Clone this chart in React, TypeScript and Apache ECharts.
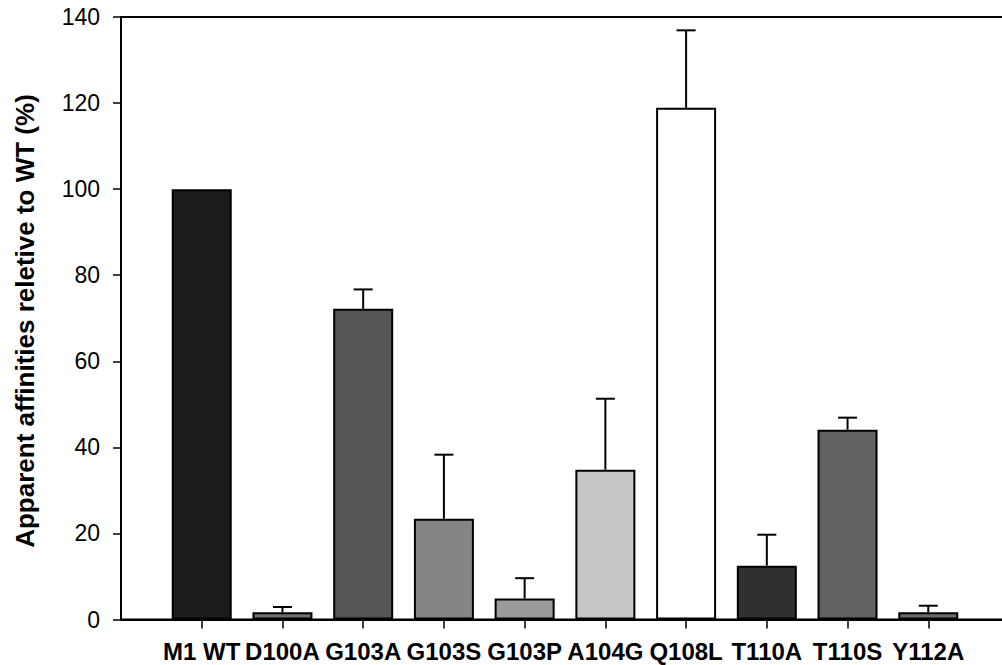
import React, { useEffect, useRef } from "react";
import * as echarts from "echarts";

const CATEGORIES = ["M1 WT", "D100A", "G103A", "G103S", "G103P", "A104G", "Q108L", "T110A", "T110S", "Y112A"];
const VALUES = [100, 1.7, 72.2, 23.4, 4.9, 34.8, 118.9, 12.5, 44.1, 1.7];
const ERRORS = [0, 1.2, 4.5, 14.9, 4.7, 16.5, 18.0, 7.2, 2.8, 1.5];
const Y_MIN = 0;
const Y_MAX = 140;
const Y_INTERVAL = 20;
const Y_TITLE = "Apparent affinities reletive to WT (%)";

const BAR_COLORS = ["#1c1c1c", "#6e6e6e", "#555555", "#858585", "#9a9a9a", "#c6c6c6", "#ffffff", "#303030", "#626262", "#6a6a6a"];

const FONT = "'Liberation Sans', Arial, sans-serif";

export default function App() {
  const ref = useRef<HTMLDivElement>(null);
  useEffect(() => {
    if (!ref.current) return;
    const chart = echarts.init(ref.current, null, { renderer: "svg" });
    // padded category list: an empty slot on each side
    const cats = ["", ...CATEGORIES, ""];
    const barData: any[] = [null as any];
    CATEGORIES.forEach((c, i) => {
      barData.push({ value: VALUES[i], itemStyle: { color: BAR_COLORS[i] } });
    });
    barData.push(null);
    const errData = CATEGORIES.map((c, i) => [i + 1, VALUES[i], ERRORS[i]]);

    chart.setOption({
      animation: false,
      grid: {
        left: 121,
        right: 0,
        top: 17,
        bottom: 45.5,
        show: true,
        borderColor: "#000",
        borderWidth: 2,
        backgroundColor: "transparent",
      },
      graphic: [
        {
          type: "text",
          x: 25,
          y: 321,
          rotation: Math.PI / 2,
          style: {
            text: Y_TITLE,
            x: 0,
            y: 0,
            textAlign: "center",
            textVerticalAlign: "middle",
            font: `bold 26px ${FONT}`,
            fill: "#000",
          },
        },
      ],
      xAxis: {
        type: "category",
        data: cats,
        boundaryGap: false,
        axisLine: { lineStyle: { color: "#000", width: 2 } },
        axisTick: {
          show: true,
          length: 9,
          interval: (idx: number, val: string) => val !== "",
          lineStyle: { color: "#000", width: 1.5 },
        },
        axisLabel: {
          interval: 0,
          margin: 20,
          fontFamily: FONT,
          fontSize: 24,
          fontWeight: "bold",
          color: "#000",
        },
        splitLine: { show: false },
      },
      yAxis: {
        type: "value",
        min: Y_MIN,
        max: Y_MAX,
        interval: Y_INTERVAL,
        axisLine: { show: true, lineStyle: { color: "#000", width: 2 } },
        axisTick: { show: true, length: 8, lineStyle: { color: "#000", width: 1.5 } },
        axisLabel: { margin: 21, fontFamily: FONT, fontSize: 23, color: "#000" },
        splitLine: { show: false },
      },
      series: [
        {
          type: "bar",
          data: barData,
          barWidth: 60,
          itemStyle: { borderColor: "#000", borderWidth: 2 },
          z: 2,
        },
        {
          type: "custom",
          data: errData,
          z: 3,
          renderItem: (params: any, api: any) => {
            const x = api.value(0);
            const v = api.value(1);
            const e = api.value(2);
            if (!e) return null;
            const p0 = api.coord([x, v]);
            const p1 = api.coord([x, v + e]);
            const hw = 9.5;
            return {
              type: "group",
              children: [
                {
                  type: "line",
                  shape: { x1: p0[0], y1: p0[1], x2: p1[0], y2: p1[1] },
                  style: { stroke: "#000", lineWidth: 2 },
                },
                {
                  type: "line",
                  shape: { x1: p1[0] - hw, y1: p1[1], x2: p1[0] + hw, y2: p1[1] },
                  style: { stroke: "#000", lineWidth: 2 },
                },
              ],
            };
          },
        },
      ],
    });
    return () => chart.dispose();
  }, []);

  return (
    <div
      style={{
        position: "fixed",
        left: 0,
        top: 0,
        width: 1002,
        height: 665,
        overflow: "hidden",
        background: "#fff",
      }}
    >
      <div ref={ref} style={{ width: 1012, height: 665 }} />
    </div>
  );
}
